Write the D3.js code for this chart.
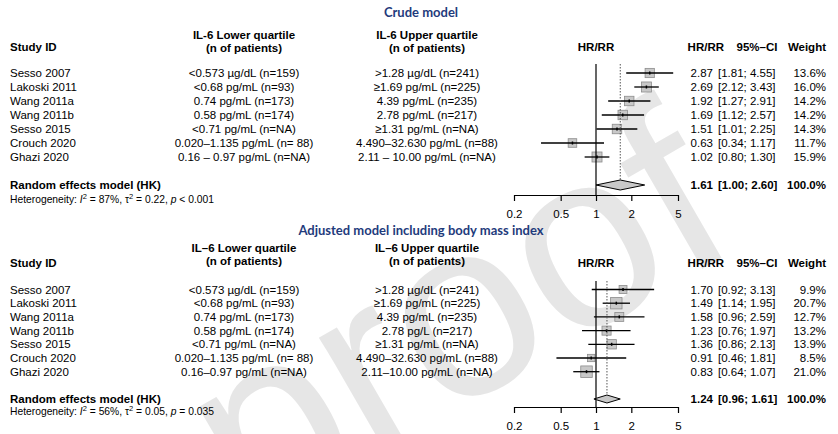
<!DOCTYPE html>
<html>
<head>
<meta charset="utf-8">
<script src="https://cdn.jsdelivr.net/npm/d3@7"></script>
<style>
  body { margin: 0; background: #fff; }
  text { font-family: "Liberation Sans", Arial, Helvetica, sans-serif; fill: #000; }
  .title { font-family: Lato, "Open Sans", sans-serif; font-weight: 700; fill: #1f3b7c; }
</style>
</head>
<body>
<div id="chart"></div>
<script>
// ---- data ----
const studies = ['Sesso 2007', 'Lakoski 2011', 'Wang 2011a', 'Wang 2011b', 'Sesso 2015', 'Crouch 2020', 'Ghazi 2020'];

const crudeLower = ['<0.573 \u00b5g/dL (n=159)', '<0.68 pg/mL (n=93)', '0.74 pg/mL (n=173)', '0.58 pg/mL (n=174)',
  '<0.71 pg/mL (n=NA)', '0.020\u20131.135 pg/mL (n= 88)', '0.16 \u2013 0.97 pg/mL (n=NA)'];
const crudeUpper = ['>1.28 \u00b5g/dL (n=241)', '\u22651.69 pg/mL (n=225)', '4.39 pg/mL (n=235)', '2.78 pg/mL (n=217)',
  '\u22651.31 pg/mL (n=NA)', '4.490\u201332.630 pg/mL (n=88)', '2.11 \u2013 10.00 pg/mL (n=NA)'];
const crudeHR = [2.87, 2.69, 1.92, 1.69, 1.51, 0.63, 1.02];
const crudeLo = [1.81, 2.12, 1.27, 1.12, 1.01, 0.34, 0.80];
const crudeHi = [4.55, 3.43, 2.91, 2.57, 2.25, 1.17, 1.30];
const crudeWeight = [13.6, 16.0, 14.2, 14.2, 14.3, 11.7, 15.9];
const crudeSummary = [1.61, 1.00, 2.60];
const crudeHet = ['87%', '0.22', '< 0.001'];

const adjLower = ['<0.573 \u00b5g/dL (n=159)', '<0.68 pg/mL (n=93)', '0.74 pg/mL (n=173)', '0.58 pg/mL (n=174)',
  '<0.71 pg/mL (n=NA)', '0.020\u20131.135 pg/mL (n= 88)', '0.16\u20130.97 pg/mL (n=NA)'];
const adjUpper = ['>1.28 \u00b5g/dL (n=241)', '\u22651.69 pg/mL (n=225)', '4.39 pg/mL (n=235)', '2.78 pg/L (n=217)',
  '\u22651.31 pg/mL (n=NA)', '4.490\u201332.630 pg/mL (n=88)', '2.11\u201310.00 pg/mL (n=NA)'];
const adjHR = [1.70, 1.49, 1.58, 1.23, 1.36, 0.91, 0.83];
const adjLo = [0.92, 1.14, 0.96, 0.76, 0.86, 0.46, 0.64];
const adjHi = [3.13, 1.95, 2.59, 1.97, 2.13, 1.81, 1.07];
const adjWeight = [9.9, 20.7, 12.7, 13.2, 13.9, 8.5, 21.0];
const adjSummary = [1.24, 0.96, 1.61];
const adjHet = ['56%', '0.05', '= 0.035'];

const xTicks = [0.2, 0.5, 1, 2, 5];

// ---- setup ----
const width = 838, height = 434;
const svg = d3.select('#chart').append('svg')
  .attr('width', width)
  .attr('height', height);

// faint watermark, clipped to the page, behind everything
svg.append('clipPath').attr('id', 'page')
  .append('rect').attr('width', width).attr('height', height);
svg.append('g').attr('clip-path', 'url(#page)')
  .append('text')
  .attr('transform', 'translate(250,530) rotate(-30)')
  .style('font-size', '250px')
  .style('fill', '#e6e6e6')
  .text('proof');

const x = d3.scaleLog().domain([0.2, 5]).range([514, 678]);
const boxSize = d3.scaleSqrt().domain([0, 21]).range([0, 11.5]);

const col = { study: 10, lower: 244, upper: 427, hr: 713, ci: 718, weight: 826 };
const fs = '11.5px';

function drawPanel(p) {
  const g = svg.append('g');
  const y = d3.scaleLinear().domain([0, studies.length - 1]).range([p.row0, p.row0 + p.step * (studies.length - 1)]);

  g.append('text').attr('class', 'title')
    .attr('x', 421).attr('y', p.titleY)
    .attr('text-anchor', 'middle')
    .style('font-size', '13px')
    .text(p.title);

  const hdr = (txt, xx, yy, anchor) => g.append('text')
    .attr('x', xx).attr('y', yy).attr('text-anchor', anchor)
    .style('font-weight', 'bold').style('font-size', fs)
    .text(txt);
  hdr('Study ID', col.study, p.headY, 'start');
  hdr(p.lowerHead, col.lower, p.h1Y, 'middle');
  hdr('(n of patients)', col.lower, p.h2Y, 'middle');
  hdr(p.upperHead, col.upper, p.h1Y, 'middle');
  hdr('(n of patients)', col.upper, p.h2Y, 'middle');
  hdr('HR/RR', x(1), p.headY, 'middle');
  hdr('HR/RR', col.hr + 11, p.headY, 'end');
  hdr('95%\u2013CI', 757, p.headY, 'middle');
  hdr('Weight', col.weight, p.headY, 'end');

  const rows = g.selectAll('g.row')
    .data(studies.map((s, i) => ({ s, i, lower: p.lower[i], upper: p.upper[i], hr: p.hr[i], lo: p.lo[i], hi: p.hi[i], w: p.w[i] })))
    .enter().append('g').attr('class', 'row')
    .attr('transform', d => `translate(0,${y(d.i)})`)
    .style('font-size', fs);

  rows.append('text').attr('x', col.study).attr('dy', '0.35em').text(d => d.s);
  rows.append('text').attr('x', col.lower).attr('dy', '0.35em').attr('text-anchor', 'middle').text(d => d.lower);
  rows.append('text').attr('x', col.upper).attr('dy', '0.35em').attr('text-anchor', 'middle').text(d => d.upper);
  rows.append('text').attr('x', col.hr).attr('dy', '0.35em').attr('text-anchor', 'end').text(d => d.hr.toFixed(2));
  rows.append('text').attr('x', col.ci).attr('dy', '0.35em').text(d => `[${d.lo.toFixed(2)}; ${d.hi.toFixed(2)}]`);
  rows.append('text').attr('x', col.weight).attr('dy', '0.35em').attr('text-anchor', 'end').text(d => d.w.toFixed(1) + '%');

  // reference line at 1 and dotted summary line
  g.append('line')
    .attr('x1', x(1)).attr('x2', x(1))
    .attr('y1', p.lineTop).attr('y2', p.axisY)
    .attr('stroke', '#000').attr('stroke-width', 1.2);
  g.append('line')
    .attr('x1', x(p.summary[0])).attr('x2', x(p.summary[0]))
    .attr('y1', p.lineTop).attr('y2', p.sumY - p.diamondH / 2)
    .attr('stroke', '#555').attr('stroke-width', 1).attr('stroke-dasharray', '1.5,1.5');

  // boxes + CI
  rows.append('rect')
    .attr('x', d => x(d.hr) - boxSize(d.w) / 2)
    .attr('y', d => -boxSize(d.w) / 2)
    .attr('width', d => boxSize(d.w))
    .attr('height', d => boxSize(d.w))
    .attr('fill', '#c8c8c8')
    .attr('stroke', '#8c8c8c')
    .attr('stroke-width', 0.8);
  rows.append('line')
    .attr('x1', d => x(d.lo)).attr('x2', d => x(d.hi))
    .attr('stroke', '#000').attr('stroke-width', 1.3);
  rows.append('line')
    .attr('x1', d => x(d.hr)).attr('x2', d => x(d.hr))
    .attr('y1', -1.5).attr('y2', 1.5)
    .attr('stroke', '#000').attr('stroke-width', 1.5);

  // summary row
  const [sHR, sLo, sHi] = p.summary;
  g.append('polygon')
    .attr('points', [[x(sLo), p.sumY], [x(sHR), p.sumY - p.diamondH / 2], [x(sHi), p.sumY], [x(sHR), p.sumY + p.diamondH / 2]].join(' '))
    .attr('fill', '#c8c8c8').attr('stroke', '#000').attr('stroke-width', 1);

  const sumRow = g.append('g').attr('transform', `translate(0,${p.sumY})`)
    .style('font-size', fs).style('font-weight', 'bold');
  sumRow.append('text').attr('x', col.study).attr('dy', '0.35em').text('Random effects model (HK)');
  sumRow.append('text').attr('x', col.hr).attr('dy', '0.35em').attr('text-anchor', 'end').text(sHR.toFixed(2));
  sumRow.append('text').attr('x', col.ci).attr('dy', '0.35em').text(`[${sLo.toFixed(2)}; ${sHi.toFixed(2)}]`);
  sumRow.append('text').attr('x', col.weight).attr('dy', '0.35em').attr('text-anchor', 'end').text('100.0%');

  // heterogeneity
  const het = g.append('text').attr('x', col.study).attr('y', p.hetY).style('font-size', '10.3px');
  het.append('tspan').text('Heterogeneity: ');
  het.append('tspan').style('font-style', 'italic').text('I');
  het.append('tspan').attr('dy', -4).style('font-size', '7.5px').text('2');
  het.append('tspan').attr('dy', 4).text(` = ${p.het[0]}, \u03c4`);
  het.append('tspan').attr('dy', -4).style('font-size', '7.5px').text('2');
  het.append('tspan').attr('dy', 4).text(` = ${p.het[1]}, `);
  het.append('tspan').style('font-style', 'italic').text('p');
  het.append('tspan').text(` ${p.het[2]}`);

  // axis
  const axis = g.append('g')
    .attr('transform', `translate(0,${p.axisY})`)
    .call(d3.axisBottom(x).tickValues(xTicks).tickFormat(d => d).tickSize(6).tickSizeOuter(0));
  axis.select('.domain').attr('stroke', '#000').attr('stroke-width', 1.2);
  axis.selectAll('.tick line').attr('stroke', '#000').attr('stroke-width', 1.2);
  axis.selectAll('.tick text')
    .attr('dy', '1.25em')
    .style('font-size', fs)
    .style('font-family', '"Liberation Sans", Arial, sans-serif');
}

drawPanel({
  title: 'Crude model', lowerHead: 'IL-6 Lower quartile', upperHead: 'IL-6 Upper quartile',
  lower: crudeLower, upper: crudeUpper, hr: crudeHR, lo: crudeLo, hi: crudeHi, w: crudeWeight,
  summary: crudeSummary, het: crudeHet,
  titleY: 17, h1Y: 39, h2Y: 52, headY: 51, row0: 73, step: 14,
  sumY: 185, diamondH: 10, hetY: 203, axisY: 195, lineTop: 64
});

drawPanel({
  title: 'Adjusted model including body mass index', lowerHead: 'IL\u20136 Lower quartile', upperHead: 'IL\u20136 Upper quartile',
  lower: adjLower, upper: adjUpper, hr: adjHR, lo: adjLo, hi: adjHi, w: adjWeight,
  summary: adjSummary, het: adjHet,
  titleY: 235, h1Y: 252, h2Y: 265, headY: 267, row0: 289.5, step: 13.7,
  sumY: 399, diamondH: 8, hetY: 415, axisY: 407, lineTop: 281
});
</script>
</body>
</html>
